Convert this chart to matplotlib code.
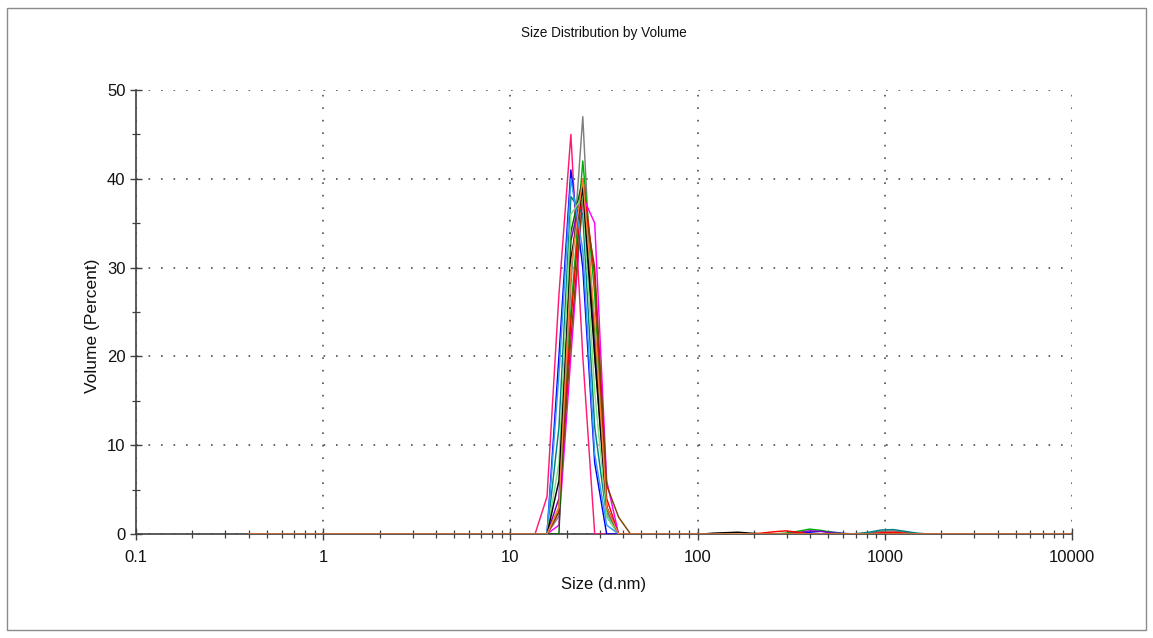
import numpy as np
import matplotlib
matplotlib.use('Agg')
import matplotlib.pyplot as plt
from matplotlib.patches import Rectangle
from matplotlib.ticker import FixedLocator, FuncFormatter, NullFormatter

plt.rcParams['font.family'] = ['Liberation Sans', 'DejaVu Sans']

# ---- data -------------------------------------------------------------
# size classes of the instrument (d.nm)
SIZES = [0.4, 0.4632, 0.5365, 0.6213, 0.7195, 0.8332, 0.9649, 1.117, 1.294,
         1.499, 1.736, 2.010, 2.328, 2.696, 3.122, 3.615, 4.187, 4.849, 5.615,
         6.503, 7.531, 8.721, 10.10, 11.70, 13.54, 15.69, 18.17, 21.04, 24.36,
         28.21, 32.67, 37.84, 43.82, 50.75, 58.77, 68.06, 78.82, 91.28, 105.7,
         122.4, 141.8, 164.2, 190.1, 220.2, 255.0, 295.3, 342.0, 396.1, 458.7,
         531.2, 615.1, 712.4, 825.0, 955.4, 1106, 1281, 1484, 1718, 1990, 2305,
         2669, 3091, 3580, 4145, 4801, 5560, 6439, 7456, 8635, 10000]

PEAK_SIZES = [13.54, 15.69, 18.17, 21.04, 24.36, 28.21, 32.67, 37.84, 43.82]
TAIL_SIZES = [105.7, 122.4, 141.8, 164.2, 190.1, 220.2, 255.0, 295.3, 342.0,
              396.1, 458.7, 531.2, 615.1, 712.4, 825.0, 955.4, 1106, 1281,
              1484, 1718, 1990]

RECORD_COLORS = ['#ff1a75', '#0000ff', '#7f7f7f', '#00b000', '#8000c0',
                 '#ff0000', '#ff00ff', '#008080', '#804000', '#006400',
                 '#3399ff', '#80e080', '#000000', '#ff8040']

PEAK_VALUES = [
    [0, 4.2, 27, 45, 20, 0, 0, 0, 0],
    [0, 0, 20, 41, 30, 8, 0, 0, 0],
    [0, 0, 2, 28, 47, 20, 2.5, 0, 0],
    [0, 0, 3, 25, 42, 27, 2, 0, 0],
    [0, 0, 4, 33, 39, 21, 3, 0, 0],
    [0, 0, 2.5, 24, 40, 29, 4, 0, 0],
    [0, 0, 1, 20, 38, 35, 6, 0, 0],
    [0, 0, 12, 38, 36, 12, 2, 0, 0],
    [0, 0, 2.5, 22, 38, 30, 5.5, 1.9, 0],
    [0, 0, 0, 34, 40, 23, 3, 0, 0],
    [0, 0, 18, 40, 32, 9, 1, 0, 0],
    [0, 0, 8, 36, 38, 16, 2, 0, 0],
    [0, 0, 6, 31, 39, 20, 3, 0, 0],
    [0, 0, 3, 30, 40, 24, 3, 0, 0],
]

# small aggregate bumps, by record index
TAIL_VALUES = {
    12: [0, 0.1, 0.15, 0.2, 0.1, 0, 0, 0, 0, 0, 0, 0, 0, 0, 0, 0, 0, 0, 0, 0, 0],
    5:  [0, 0, 0, 0, 0, 0.1, 0.25, 0.35, 0.2, 0, 0, 0, 0, 0, 0, 0.15, 0.2, 0.1, 0, 0, 0],
    3:  [0, 0, 0, 0, 0, 0, 0, 0.1, 0.3, 0.55, 0.4, 0.15, 0, 0, 0, 0, 0, 0, 0, 0, 0],
    4:  [0, 0, 0, 0, 0, 0, 0, 0, 0.15, 0.35, 0.3, 0.1, 0, 0, 0, 0, 0, 0, 0, 0, 0],
    1:  [0, 0, 0, 0, 0, 0, 0, 0, 0.1, 0.2, 0.3, 0.2, 0.05, 0, 0, 0, 0, 0, 0, 0, 0],
    7:  [0, 0, 0, 0, 0, 0, 0, 0, 0, 0, 0, 0, 0, 0.05, 0.2, 0.45, 0.5, 0.3, 0.1, 0, 0],
    2:  [0, 0, 0, 0, 0, 0, 0, 0, 0, 0, 0, 0, 0, 0, 0.1, 0.3, 0.35, 0.2, 0, 0, 0],
}

X_TICKS = [0.1, 1, 10, 100, 1000, 10000]
Y_TICKS = [0, 10, 20, 30, 40, 50]

# ---- figure -----------------------------------------------------------
W, H = 1153, 638
fig = plt.figure(figsize=(W / 100, H / 100), dpi=100)
fig.patches.append(Rectangle((7 / W, 8 / H), 1139 / W, 622 / H, transform=fig.transFigure,
                             fill=False, edgecolor='#8a8a8a', lw=1.0))

ax = fig.add_axes([136 / W, 1 - 534 / H, 936 / W, 444 / H])

sizes = np.array(SIZES)
for i, color in enumerate(RECORD_COLORS):
    vol = np.zeros(len(sizes))
    for s, v in zip(PEAK_SIZES, PEAK_VALUES[i]):
        vol[np.argmin(np.abs(sizes - s))] = v
    if i in TAIL_VALUES:
        for s, v in zip(TAIL_SIZES, TAIL_VALUES[i]):
            vol[np.argmin(np.abs(sizes - s))] = v
    ax.plot(sizes, vol, color=color, lw=1.05, zorder=3)

ax.set_xscale('log')
ax.set_xlim(0.1, 10000)
ax.set_ylim(0, 50)

ax.xaxis.set_major_locator(FixedLocator(X_TICKS))
ax.xaxis.set_major_formatter(FuncFormatter(lambda v, p: '%g' % v))
minor = [m * 10.0 ** e for e in range(-1, 4) for m in range(2, 10)]
ax.xaxis.set_minor_locator(FixedLocator(minor))
ax.xaxis.set_minor_formatter(NullFormatter())
ax.yaxis.set_major_locator(FixedLocator(Y_TICKS))
ax.yaxis.set_minor_locator(FixedLocator([5, 15, 25, 35, 45]))

for side in ('top', 'right'):
    ax.spines[side].set_visible(False)
for side in ('left', 'bottom'):
    ax.spines[side].set_color('#404040')
    ax.spines[side].set_linewidth(1.2)

ax.tick_params(which='major', direction='inout', length=9, width=1.0, color='#404040',
               labelsize=12, labelcolor='#111111', pad=3)
ax.tick_params(axis='x', which='major', pad=7)
ax.tick_params(which='minor', direction='inout', length=6, width=0.9, color='#404040')

ax.grid(True, which='major', color='#505050', linestyle=(0, (1, 6.5)), lw=1.2)
ax.set_axisbelow(True)

fig.text(604 / W, 1 - 33 / H, 'Size Distribution by Volume', ha='center', va='center',
         fontsize=9.8, color='#111111')
fig.text(604 / W, 1 - 584 / H, 'Size (d.nm)', ha='center', va='center',
         fontsize=12, color='#111111')
fig.text(93 / W, 1 - 326 / H, 'Volume (Percent)', ha='center', va='center',
         rotation=90, fontsize=12.5, color='#111111')

fig.savefig('out.png', dpi=100, facecolor='white')
